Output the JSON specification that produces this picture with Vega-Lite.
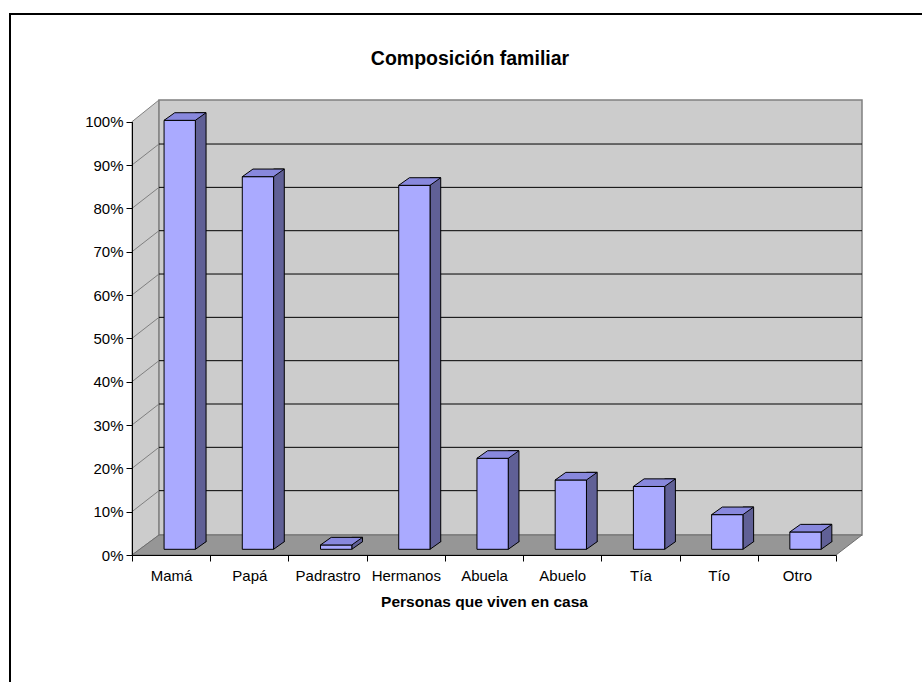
{
  "$schema": "https://vega.github.io/schema/vega-lite/v6.json",
  "autosize": "none",
  "width": 912,
  "height": 669,
  "padding": {"left": 10, "top": 13, "right": 0, "bottom": 0},
  "background": "white",
  "config": {"view": {"stroke": null}, "font": "Liberation Sans"},
  "title": {"text": "Composición familiar", "font": "Liberation Sans", "fontSize": 19.5, "fontWeight": "bold", "color": "black", "anchor": "middle", "baseline": "alphabetic", "offset": -72.5, "dx": 4},
  "datasets": {
    "bars": [
      {"persona": "Mamá", "pct": 0.99},
      {"persona": "Papá", "pct": 0.86},
      {"persona": "Padrastro", "pct": 0.01},
      {"persona": "Hermanos", "pct": 0.84},
      {"persona": "Abuela", "pct": 0.21},
      {"persona": "Abuelo", "pct": 0.16},
      {"persona": "Tía", "pct": 0.145},
      {"persona": "Tío", "pct": 0.08},
      {"persona": "Otro", "pct": 0.04}
    ],
    "ticks": [{"v": 0.1}, {"v": 0.2}, {"v": 0.3}, {"v": 0.4}, {"v": 0.5}, {"v": 0.6}, {"v": 0.7}, {"v": 0.8}, {"v": 0.9}],
    "one": [{"k": 1}]
  },
  "layer": [
    {
      "data": {"name": "one"},
      "mark": {"type": "rule", "color": "black", "strokeWidth": 2},
      "encoding": {"y": {"value": 1}}
    },
    {
      "data": {"name": "one"},
      "mark": {"type": "rule", "color": "black", "strokeWidth": 2},
      "encoding": {"x": {"value": 0}}
    },
    {
      "data": {"name": "one"},
      "mark": {"type": "point", "shape": "M0,0 L0,-433.3 L27,-455 L27,-20 Z", "size": 4, "filled": true, "opacity": 1, "fill": "#cccccc", "stroke": "#808080", "strokeWidth": 1},
      "encoding": {
        "x": {"datum": "Mamá", "bandPosition": 0},
        "y": {"datum": 0}
      }
    },
    {
      "data": {"name": "one"},
      "mark": {"type": "rect", "fill": "#cccccc", "stroke": "#808080", "strokeWidth": 1.5, "xOffset": 27, "x2Offset": 26, "yOffset": -20, "y2Offset": -21.7},
      "encoding": {
        "x": {"datum": "Mamá", "bandPosition": 0},
        "x2": {"datum": "Otro", "bandPosition": 1},
        "y": {"datum": 0},
        "y2": {"datum": 1}
      }
    },
    {
      "data": {"name": "ticks"},
      "mark": {"type": "rule", "color": "black", "strokeWidth": 1, "xOffset": 27, "x2Offset": 26, "yOffset": -21},
      "encoding": {
        "x": {"datum": "Mamá", "bandPosition": 0},
        "x2": {"datum": "Otro", "bandPosition": 1},
        "y": {"field": "v", "type": "quantitative"}
      }
    },
    {
      "data": {"name": "ticks"},
      "mark": {"type": "rule", "color": "#808080", "strokeWidth": 1, "x2Offset": 27, "y2Offset": -21},
      "encoding": {
        "x": {"datum": "Mamá", "bandPosition": 0},
        "x2": {"datum": "Mamá", "bandPosition": 0},
        "y": {"field": "v", "type": "quantitative"},
        "y2": {"field": "v"}
      }
    },
    {
      "data": {"name": "one"},
      "mark": {"type": "point", "shape": "M0,0 L704,0 L730,-20 L27,-20 Z", "size": 4, "filled": true, "opacity": 1, "fill": "#969696", "stroke": "#6e6e6e", "strokeWidth": 1},
      "encoding": {
        "x": {"datum": "Mamá", "bandPosition": 0},
        "y": {"datum": 0}
      }
    },
    {
      "data": {"name": "bars"},
      "mark": {"type": "bar", "width": 10.7, "xOffset": 29.6, "yOffset": -13.3, "y2Offset": -13.3, "fill": "#606096", "stroke": "black", "strokeWidth": 1, "opacity": 1},
      "encoding": {
        "x": {"field": "persona", "type": "nominal"},
        "y": {"field": "pct", "type": "quantitative"}
      }
    },
    {
      "data": {"name": "bars"},
      "mark": {"type": "point", "shape": "M15.65,-8.6 L15.65,0 L26.35,-7.6 L26.35,-8.6", "size": 4, "filled": true, "opacity": 1, "fill": "#606096", "stroke": "black", "strokeWidth": 1, "xOffset": 8.6, "yOffset": -5.7},
      "encoding": {
        "x": {"field": "persona", "type": "nominal"},
        "y": {"datum": 0}
      }
    },
    {
      "data": {"name": "bars"},
      "mark": {"type": "bar", "width": {"band": 0.4}, "xOffset": 8.6, "yOffset": -5.7, "y2Offset": -5.7, "fill": "#aaaaff", "stroke": "black", "strokeWidth": 1, "opacity": 1},
      "encoding": {
        "x": {
          "field": "persona", "type": "nominal",
          "scale": {"domain": ["Mamá", "Papá", "Padrastro", "Hermanos", "Abuela", "Abuelo", "Tía", "Tío", "Otro"], "range": [122, 826], "paddingInner": 0, "paddingOuter": 0},
          "axis": {"orient": "bottom", "offset": -127, "zindex": 1, "tickBand": "extent", "tickSize": 6, "tickColor": "black", "domainColor": "black", "labelFont": "Liberation Sans", "labelFontSize": 15, "labelColor": "black", "labelPadding": 14, "labelAngle": 0, "labelAlign": "center", "title": "Personas que viven en casa", "titleFont": "Liberation Sans", "titleFontSize": 15.5, "titleFontWeight": "bold", "titleColor": "black", "titlePadding": 11}
        },
        "y": {
          "field": "pct", "type": "quantitative",
          "scale": {"domain": [0, 1], "range": [542, 108.7], "nice": false, "zero": true},
          "axis": {"orient": "left", "offset": -122, "zindex": 1, "values": [0, 0.1, 0.2, 0.3, 0.4, 0.5, 0.6, 0.7, 0.8, 0.9, 1], "format": ".0%", "grid": false, "tickSize": 6, "tickColor": "black", "domainColor": "black", "labelFont": "Liberation Sans", "labelFontSize": 15, "labelColor": "black", "labelPadding": 3, "labelFlush": false, "labelOverlap": false, "title": null}
        }
      }
    },
    {
      "data": {"name": "bars"},
      "mark": {"type": "point", "shape": "M-15.65,0 L-4.95,-7.6 L26.35,-7.6 L15.65,0 Z", "size": 4, "filled": true, "opacity": 1, "fill": "#8888dd", "stroke": "black", "strokeWidth": 1, "xOffset": 8.6, "yOffset": -5.7},
      "encoding": {
        "x": {"field": "persona", "type": "nominal"},
        "y": {"field": "pct", "type": "quantitative"}
      }
    }
  ]
}
